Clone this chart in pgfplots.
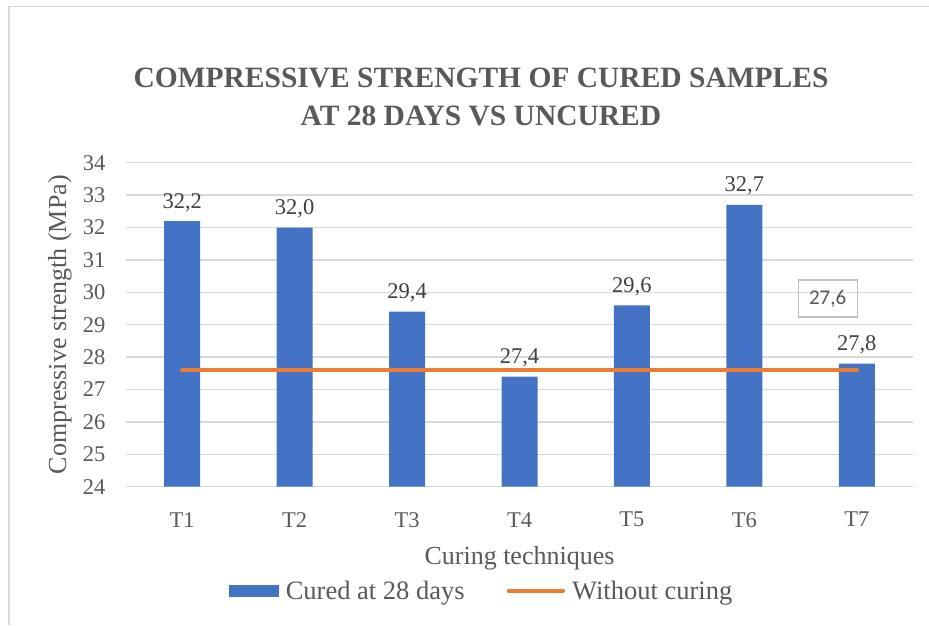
\documentclass[border=0pt]{standalone}
\usepackage{pgfplots}
\pgfplotsset{compat=1.18}
\usepackage{fontspec}
\setmainfont{Liberation Serif}
\newfontfamily\boxfont{Carlito}
\definecolor{barblue}{HTML}{4472C4}
\definecolor{lineorange}{HTML}{ED7D31}
\definecolor{gridgray}{HTML}{D9D9D9}
\definecolor{txtgray}{HTML}{595959}
\definecolor{lblgray}{HTML}{404040}
\definecolor{boxgray}{HTML}{BFBFBF}
\begin{document}
\begin{tikzpicture}[x=1pt,y=1pt]
\path[use as bounding box] (0,0) rectangle (929,625);
\draw[gridgray, line width=1.5pt] (9,0) -- (9,618.3) -- (929,618.3);
\node[anchor=base, font=\fontsize{29.5}{34}\selectfont\bfseries, text=txtgray] at (481,537) {COMPRESSIVE STRENGTH OF CURED SAMPLES};
\node[anchor=base, font=\fontsize{29.5}{34}\selectfont\bfseries, text=txtgray] at (481,499) {AT 28 DAYS VS UNCURED};
\begin{axis}[
  at={(126pt,138.3pt)}, anchor=south west,
  scale only axis, width=787pt, height=324pt,
  xmin=-0.5, xmax=6.5, ymin=24, ymax=34,
  xtick={0,1,2,3,4,5,6},
  xticklabels={T1,T2,T3,T4,T5,T6,T7},
  ytick={24,25,26,27,28,29,30,31,32,33,34},
  major tick length=0pt,
  axis line style={draw=none},
  ymajorgrids, grid style={gridgray, line width=1.3pt},
  /pgf/number format/assume math mode=true,
  tick label style={font=\fontsize{22.5}{26}\selectfont, text=txtgray},
  yticklabel style={xshift=-17pt},
  xticklabel style={yshift=-22pt},
  xlabel={Curing techniques},
  ylabel={Compressive strength (MPa)},
  every axis x label/.style={at={(axis description cs:0.5,-0.2216)}, anchor=center,
    font=\fontsize{26}{30}\selectfont, text=txtgray},
  every axis y label/.style={at={(axis description cs:-0.0839,0.5)}, anchor=center, rotate=90,
    font=\fontsize{26}{30}\selectfont, text=txtgray},
  legend columns=2,
  legend style={draw=none, fill=none, at={(axis description cs:0.4505,-0.322)}, anchor=center,
    font=\fontsize{26.5}{30}\selectfont, text=txtgray,
    nodes={inner sep=0pt},
    /tikz/every odd column/.append style={column sep=7pt},
    /tikz/every even column/.append style={column sep=42pt}},
  clip=false,
]
\addplot[ybar, bar width=36pt, fill=barblue, draw=none,
  nodes near coords,
  every node near coord/.append style={font=\fontsize{22.5}{26}\selectfont, text=lblgray, yshift=6pt},
  /pgf/number format/.cd, fixed, fixed zerofill, precision=1, use comma, assume math mode=true,
  /pgfplots/legend image code/.code={\fill[barblue] (0pt,-6pt) rectangle (50pt,6pt);}]
  coordinates {(0,32.2) (1,32.0) (2,29.4) (3,27.4) (4,29.6) (5,32.7) (6,27.8)};
\addlegendentry{Cured at 28 days}
\addplot[lineorange, line width=4.5pt, line cap=round, no marks,
  legend image code/.code={\draw[lineorange, line width=4.5pt, line cap=round] (2pt,0pt) -- (56pt,0pt);}]
  coordinates {(0,27.6) (1,27.6) (2,27.6) (3,27.6) (4,27.6) (5,27.6) (6,27.6)};
\addlegendentry{Without curing}
\node[draw=boxgray, line width=1.3pt, minimum width=59pt, minimum height=37pt, inner sep=0pt,
  font=\boxfont\fontsize{21}{25}\selectfont, text=txtgray] at (axis cs:5.741,29.81) {27,6};
\end{axis}
\end{tikzpicture}
\end{document}
